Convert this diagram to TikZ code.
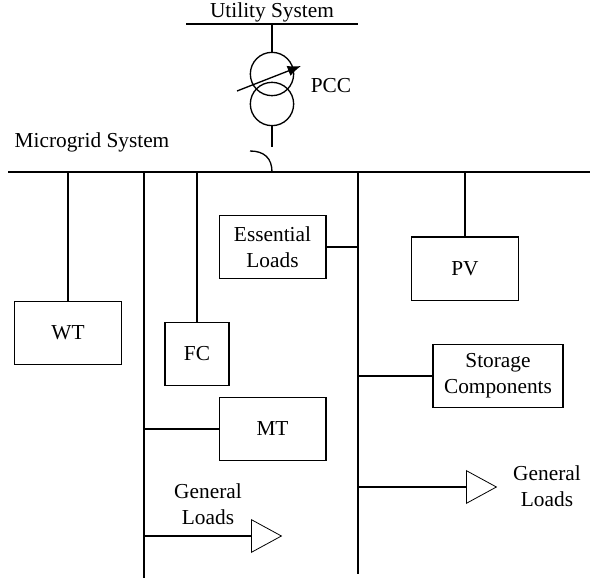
\documentclass[tikz,border=0pt]{standalone}
\usepackage{fontspec}
\setmainfont{Liberation Serif}
\usetikzlibrary{arrows.meta, shapes.geometric}
\tikzset{x=.75pt,y=-.75pt}
\tikzset{
  unit/.style={draw,line width=1pt,minimum width=80pt,minimum height=47.5pt,inner sep=0pt,align=center},
  coil/.style={draw,circle,line width=1pt,minimum size=32.5pt,inner sep=0pt},
  load/.style={draw,isosceles triangle,isosceles triangle stretches,line width=.6pt,
    minimum width=24.5pt,minimum height=22.5pt,inner sep=0pt,anchor=lower side},
  lbl/.style={inner sep=0pt,align=center},
  wire/.style={line width=1pt},
}
\begin{document}
\begin{tikzpicture}[font=\fontsize{16}{19.5}\selectfont]
\useasboundingbox (0,0) rectangle (590,585);
    % buses
    \coordinate (utilL) at (186,24);
    \coordinate (utilR) at (358,24);
    \coordinate (gridL) at (8,172);
    \coordinate (gridR) at (590,172);
    \draw[wire] (utilL) -- (utilR);
    \draw[wire] (gridL) -- (gridR);
    \coordinate (feedA) at (144,172);
    \coordinate (feedAend) at (144,578);
    \coordinate (feedB) at (358,172);
    \coordinate (feedBend) at (358,574);
    \draw[wire] (feedA) -- (feedAend);
    \draw[wire] (feedB) -- (feedBend);
    % transformer
    \node[coil] (coilT) at (272,74) {};
    \node[coil] (coilB) at (272,104) {};
    \coordinate (utilTap) at (272,24);
    \coordinate (stub) at (272,147);
    \coordinate (gridTap) at (272,172);
    \coordinate (hookEnd) at (250,151);
    \draw[wire] (utilTap) -- (coilT);
    \draw[wire] (coilB) -- (stub);
    \draw[wire] (gridTap) .. controls (272,158) and (264,151) .. (hookEnd);
    \coordinate (tapA) at (237,91);
    \coordinate (tapB) at (301,66);
    \draw[wire,-{Latex[length=10pt,width=8pt]}] (tapA) -- (tapB);
    % units
    \node[unit] (wt) at (68,333) {WT};
    \node[unit,minimum width=48pt] (fc) at (197,354) {FC};
    \node[unit] (essential) at (272.5,247) {Essential\\Loads};
    \node[unit] (pv) at (465,268.5) {PV};
    \node[unit,minimum width=97.5pt] (storage) at (498,376) {Storage\\Components};
    \node[unit] (mt) at (272.5,429) {MT};
    \node[load] (loadR) at (466,487) {};
    \node[load] (loadL) at (251,536) {};
    % connections
    \draw[wire] (wt.north) -- (wt.north |- gridL);
    \draw[wire] (fc.north) -- (fc.north |- gridL);
    \draw[wire] (pv.north) -- (pv.north |- gridL);
    \draw[wire] (essential.east) -- (essential.east -| feedB);
    \draw[wire] (storage.west) -- (storage.west -| feedB);
    \draw[wire] (mt.west) -- (mt.west -| feedA);
    \draw[wire] (loadR.lower side) -- (loadR.lower side -| feedB);
    \draw[wire] (loadL.lower side) -- (loadL.lower side -| feedA);
    % labels
    \node[lbl] (utilText) at (272,12) {Utility System};
    \node[lbl] (pccText) at (331,86) {PCC};
    \node[lbl] (gridText) at (92,142) {Microgrid System};
    \node[lbl] (genL) at (208,504) {General\\Loads};
    \node[lbl] (genR) at (547,486) {General\\Loads};
\end{tikzpicture}
\end{document}
